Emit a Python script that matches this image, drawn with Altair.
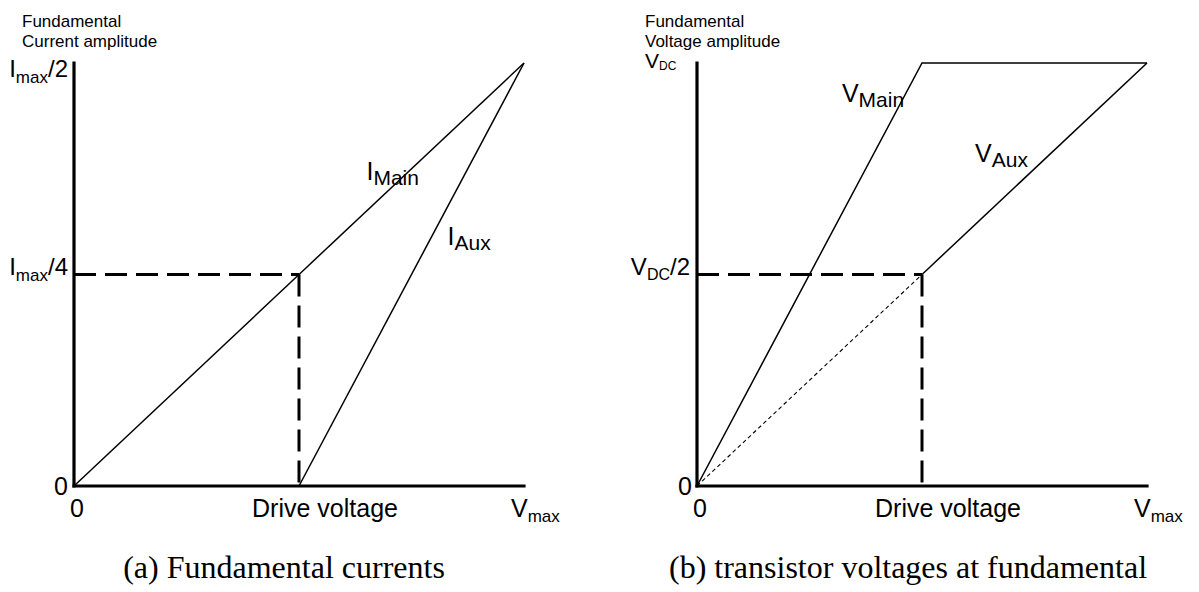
import altair as alt
import pandas as pd

# Horizontal axis: drive voltage as a fraction of V_max
DRIVE = 0.5

# (a) fundamental current amplitudes, in units of I_max
i_main_x = [0.0, 0.5, 1.0]
i_main_y = [0.0, 0.25, 0.5]
i_aux_x = [0.5, 1.0]
i_aux_y = [0.0, 0.5]
I_TOP = 0.5    # I_max/2
I_MID = 0.25   # I_max/4

# (b) fundamental voltage amplitudes, in units of V_DC
v_main_x = [0.0, 0.5, 1.0]
v_main_y = [0.0, 1.0, 1.0]
v_aux_x = [0.5, 1.0]
v_aux_y = [0.5, 1.0]
v_lin_x = [0.0, 0.5]
v_lin_y = [0.0, 0.5]
V_TOP = 1.0    # V_DC
V_MID = 0.5    # V_DC/2

SANS = "Liberation Sans"
SERIF = "Liberation Serif"

# advance widths (em) of the glyphs used in the compound labels
ADV = {"I": .278, "V": .667, "/": .278, "2": .556, "4": .556, "m": .833,
       "a": .556, "x": .5, "M": .833, "i": .222, "n": .556, "A": .667,
       "u": .556, "D": .722, "C": .722}


def width(s, size):
    return sum(ADV[c] for c in s) * size


xa = alt.Scale(domain=[0, 1], range=[74, 524])
ya = alt.Scale(domain=[0, I_TOP], range=[486, 63])
xb = alt.Scale(domain=[0, 1], range=[697, 1147])
yb = alt.Scale(domain=[0, V_TOP], range=[486, 63])


def enc(sx, sy):
    return dict(x=alt.X("x:Q", scale=sx, axis=None),
                y=alt.Y("y:Q", scale=sy, axis=None))


def curve(xs, ys, sx, sy, w=1.5):
    df = pd.DataFrame({"x": xs, "y": ys, "i": range(len(xs))})
    return alt.Chart(df).mark_line(color="black", strokeWidth=w).encode(
        order="i:O", **enc(sx, sy))


def seg(x1, y1, x2, y2, sx, sy, w, dash=None, cap="butt"):
    df = pd.DataFrame({"x": [x1], "y": [y1], "x2": [x2], "y2": [y2]})
    props = dict(color="black", strokeWidth=w, strokeCap=cap)
    if dash:
        props["strokeDash"] = dash
    return alt.Chart(df).mark_rule(**props).encode(
        x2="x2:Q", y2="y2:Q", **enc(sx, sy))


def text(x, y, s, sx, sy, size, dx=0, dy=0, align="left", font=SANS):
    df = pd.DataFrame({"x": [x], "y": [y], "t": [s]})
    return alt.Chart(df).mark_text(
        align=align, baseline="alphabetic", dx=dx, dy=dy, fontSize=size,
        font=font, color="black").encode(text="t:N", **enc(sx, sy))


def compound(x, y, sx, sy, parts, dx=0, dy=0, align="left"):
    """Label made of pieces with their own size and baseline shift."""
    total = sum(width(t, sz) for t, sz, _ in parts)
    start = dx if align == "left" else dx - total
    out = []
    for t, sz, shift in parts:
        out.append(text(x, y, t, sx, sy, sz, dx=start, dy=dy + shift))
        start += width(t, sz)
    return out


DASH = [22, 9]
SUB = 21

layers_a = [
    seg(0, I_MID, DRIVE, I_MID, xa, ya, 3, DASH),
    seg(DRIVE, I_MID, DRIVE, 0, xa, ya, 3, DASH),
    curve(i_main_x, i_main_y, xa, ya),
    curve(i_aux_x, i_aux_y, xa, ya),
    seg(0, 0, 1, 0, xa, ya, 3.2, cap="square"),
    seg(0, 0, 0, I_TOP, xa, ya, 3.2, cap="square"),
    text(0, I_TOP, "Fundamental", xa, ya, 17, dx=-52, dy=-36),
    text(0, I_TOP, "Current amplitude", xa, ya, 17, dx=-52, dy=-16),
    *compound(0, I_TOP, xa, ya, [("I", 24, 0), ("max", 17, 6), ("/2", 24, 0)],
              dx=-6, dy=14, align="right"),
    *compound(0, I_MID, xa, ya, [("I", 24, 0), ("max", 17, 6), ("/4", 24, 0)],
              dx=-6, dy=0, align="right"),
    text(0, 0, "0", xa, ya, 25, dx=-6, dy=9, align="right"),
    text(0, 0, "0", xa, ya, 25, dx=3, dy=31, align="center"),
    text(DRIVE, 0, "Drive voltage", xa, ya, 25, dx=26, dy=31, align="center"),
    *compound(1, 0, xa, ya, [("V", 25, 0), ("max", 17, 5)], dx=-13, dy=31),
    *compound(0.65, 0.325, xa, ya, [("I", 25, 0), ("Main", SUB, 5)], dy=-31),
    *compound(0.83, 0.285, xa, ya, [("I", 25, 0), ("Aux", SUB, 5)]),
    text(0.5, 0, "(a) Fundamental currents", xa, ya, 32, dx=-15, dy=92,
         align="center", font=SERIF),
]

layers_b = [
    seg(0, V_MID, DRIVE, V_MID, xb, yb, 3, DASH),
    seg(DRIVE, V_MID, DRIVE, 0, xb, yb, 3, DASH),
    seg(v_lin_x[0], v_lin_y[0], v_lin_x[1], v_lin_y[1], xb, yb, 1.1, [4, 3]),
    curve(v_main_x, v_main_y, xb, yb),
    curve(v_aux_x, v_aux_y, xb, yb),
    seg(0, 0, 1, 0, xb, yb, 3.2, cap="square"),
    seg(0, 0, 0, V_TOP, xb, yb, 3.2, cap="square"),
    text(0, V_TOP, "Fundamental", xb, yb, 17, dx=-52, dy=-36),
    text(0, V_TOP, "Voltage amplitude", xb, yb, 17, dx=-52, dy=-16),
    *compound(0, V_TOP, xb, yb, [("V", 21, 0), ("DC", 12, 2)], dx=-52, dy=5),
    *compound(0, V_MID, xb, yb, [("V", 24, 0), ("DC", 16, 5), ("/2", 24, 0)],
              dx=-7, dy=0, align="right"),
    text(0, 0, "0", xb, yb, 25, dx=-5, dy=9, align="right"),
    text(0, 0, "0", xb, yb, 25, dx=3, dy=31, align="center"),
    text(DRIVE, 0, "Drive voltage", xb, yb, 25, dx=26, dy=31, align="center"),
    *compound(1, 0, xb, yb, [("V", 25, 0), ("max", 17, 5)], dx=-13, dy=31),
    *compound(0.322, 0.908, xb, yb, [("V", 25, 0), ("Main", SUB, 5)]),
    *compound(0.618, 0.765, xb, yb, [("V", 25, 0), ("Aux", SUB, 5)]),
    text(0.5, 0, "(b) transistor voltages at fundamental", xb, yb, 32, dx=-14,
         dy=92, align="center", font=SERIF),
]

panel_a = alt.layer(*layers_a)
panel_b = alt.layer(*layers_b)

chart = (
    alt.layer(panel_a, panel_b)
    .resolve_scale(x="independent", y="independent")
    .properties(width=1199, height=592, padding=0, background="white",
                autosize=alt.AutoSizeParams(type="none"))
    .configure_view(stroke=None)
)

chart.save("out.html", embed_options={"renderer": "svg", "actions": False})
